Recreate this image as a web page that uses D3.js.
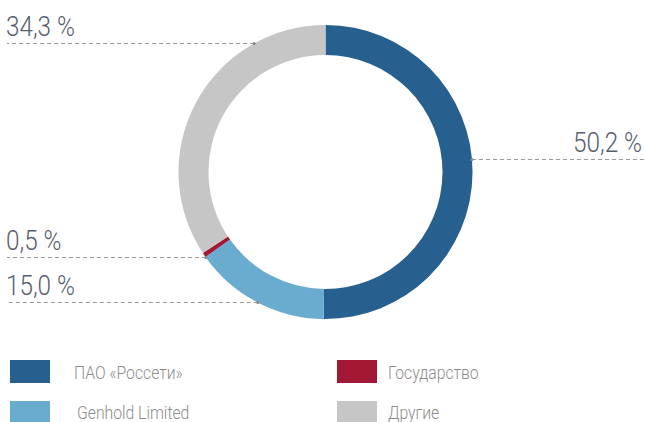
<!DOCTYPE html>
<html>
<head>
<meta charset="utf-8">
<script src="https://cdn.jsdelivr.net/npm/d3@7"></script>
<style>
  body { margin: 0; background: #fff; }
  svg text { font-family: Roboto, "Liberation Sans Narrow", sans-serif; font-weight: 300; }
</style>
</head>
<body>
<div id="chart"></div>
<script>
// data
var categories = ['ПАО «Россети»', 'Genhold Limited', 'Государство', 'Другие']
var shares     = [50.2, 15.0, 0.5, 34.3]
var valueLabels = ['50,2 %', '15,0 %', '0,5 %', '34,3 %']
var colors     = ['#27608f', '#6aabd0', '#a31834', '#c6c6c6']

;(function () {

  var width = 645,
      height = 422

  var cx = 325.5, cy = 172,
      outerR = 147, innerR = 117

  // condensed look: squeeze text horizontally
  var labelSqueeze = 0.9,
      legendSqueeze = 0.9

  // where each leader line sits (screen y) and which side its label goes
  var leaders = [
    {y: 159.5, side: 'right'},
    {y: 302.5, side: 'left'},
    {y: 257.5, side: 'left'},
    {y: 43.5,  side: 'left'}
  ]

  var svg = d3.select('#chart').append('svg')
    .attr('width', width)
    .attr('height', height)

  var pie = d3.pie().sort(null).value(function (d) { return d })
  var arc = d3.arc().innerRadius(innerR).outerRadius(outerR)

  var g = svg.append('g')
    .attr('transform', 'translate(' + cx + ',' + cy + ')')

  g.selectAll('path')
    .data(pie(shares))
    .enter().append('path')
    .attr('d', arc)
    .attr('fill', function (d, i) { return colors[i] })

  // leader lines + value labels
  var labels = svg.append('g')
  leaders.forEach(function (l, i) {
    var dy = l.y - cy
    var dx = Math.sqrt(outerR * outerR - dy * dy)
    var x0 = l.side === 'right' ? cx + dx : cx - dx
    var x1 = l.side === 'right' ? width : 7

    labels.append('line')
      .attr('x1', x0).attr('x2', x1)
      .attr('y1', l.y).attr('y2', l.y)
      .attr('stroke', '#9a9a9a')
      .attr('stroke-width', 1.2)
      .attr('stroke-dasharray', '4,3')

    labels.append('circle')
      .attr('cx', x0).attr('cy', l.y).attr('r', 1.6)
      .attr('fill', '#8a8a8a')

    labels.append('text')
      .attr('transform', 'translate(' + (l.side === 'right' ? 642 : 6) + ',' + (l.y - 7.5) + ') scale(' + labelSqueeze + ',1)')
      .attr('text-anchor', l.side === 'right' ? 'end' : 'start')
      .attr('font-size', 27)
      .attr('fill', '#56606e')
      .text(valueLabels[i])
  })

  // legend, two columns
  var legend = svg.append('g')
  var legendItems = legend.selectAll('g')
    .data(categories)
    .enter().append('g')
    .attr('transform', function (d, i) {
      var col = i < 2 ? 0 : 1
      var row = i % 2
      return 'translate(' + (10 + col * 327) + ',' + (360 + row * 41) + ')'
    })

  legendItems.append('rect')
    .attr('width', 40)
    .attr('height', 23)
    .attr('fill', function (d, i) { return colors[i] })

  legendItems.append('text')
    .attr('transform', function (d, i) {
      var x = i === 0 ? 64 : (i === 1 ? 67 : 51)
      return 'translate(' + x + ',' + (i % 2 ? 18 : 19) + ') scale(' + legendSqueeze + ',1)'
    })
    .attr('font-size', 17.5)
    .attr('fill', '#8c8c8c')
    .text(function (d) { return d })

})()
</script>
</body>
</html>
